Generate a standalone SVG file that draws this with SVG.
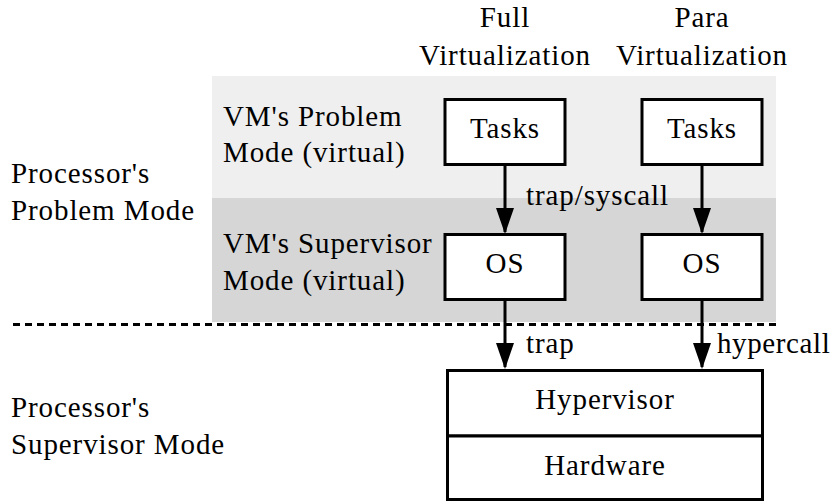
<svg xmlns="http://www.w3.org/2000/svg" width="832" height="504" viewBox="0 0 832 504">
  <defs>
    <marker id="head" viewBox="0 0 26 18" refX="24" refY="9" markerWidth="26" markerHeight="18" markerUnits="userSpaceOnUse" orient="auto">
      <path d="M0,0 L26,9 L0,18 Z" fill="#000"/>
    </marker>
  </defs>

  <!-- mode bands -->
  <rect x="212" y="76" width="564" height="122" fill="#efefef"/>
  <rect x="212" y="198" width="564" height="124" fill="#d6d6d6"/>
  <line x1="13" y1="324.5" x2="776" y2="324.5" stroke="#000" stroke-width="3" stroke-dasharray="7 5"/>

  <!-- column headings -->
  <text x="505" y="27" text-anchor="middle" font-family="Times New Roman" font-size="29" letter-spacing="0.9">Full</text>
  <text x="505" y="65" text-anchor="middle" font-family="Times New Roman" font-size="29" letter-spacing="0.9">Virtualization</text>
  <text x="702" y="27" text-anchor="middle" font-family="Times New Roman" font-size="29" letter-spacing="0.9">Para</text>
  <text x="702" y="65" text-anchor="middle" font-family="Times New Roman" font-size="29" letter-spacing="0.9">Virtualization</text>

  <!-- row labels -->
  <text x="223" y="126" font-family="Times New Roman" font-size="29" letter-spacing="0.9">VM's Problem</text>
  <text x="223" y="162" font-family="Times New Roman" font-size="29" letter-spacing="0.9">Mode (virtual)</text>
  <text x="223" y="253" font-family="Times New Roman" font-size="29" letter-spacing="0.9">VM's Supervisor</text>
  <text x="223" y="290" font-family="Times New Roman" font-size="29" letter-spacing="0.9">Mode (virtual)</text>
  <text x="11" y="183" font-family="Times New Roman" font-size="29" letter-spacing="0.9">Processor's</text>
  <text x="11" y="220" font-family="Times New Roman" font-size="29" letter-spacing="0.9">Problem Mode</text>
  <text x="11" y="417" font-family="Times New Roman" font-size="29" letter-spacing="0.9">Processor's</text>
  <text x="11" y="454" font-family="Times New Roman" font-size="29" letter-spacing="0.9">Supervisor Mode</text>

  <!-- nodes -->
  <g id="tasks-full">
    <rect x="445" y="99.5" width="120" height="65" fill="#fff" stroke="#000" stroke-width="3"/>
    <text x="505" y="138" text-anchor="middle" font-family="Times New Roman" font-size="29" letter-spacing="0.9">Tasks</text>
  </g>
  <g id="tasks-para">
    <rect x="642" y="99.5" width="120" height="65" fill="#fff" stroke="#000" stroke-width="3"/>
    <text x="702" y="138" text-anchor="middle" font-family="Times New Roman" font-size="29" letter-spacing="0.9">Tasks</text>
  </g>
  <g id="os-full">
    <rect x="445" y="234.5" width="120" height="65" fill="#fff" stroke="#000" stroke-width="3"/>
    <text x="505" y="273" text-anchor="middle" font-family="Times New Roman" font-size="29" letter-spacing="0.9">OS</text>
  </g>
  <g id="os-para">
    <rect x="642" y="234.5" width="120" height="65" fill="#fff" stroke="#000" stroke-width="3"/>
    <text x="702" y="273" text-anchor="middle" font-family="Times New Roman" font-size="29" letter-spacing="0.9">OS</text>
  </g>
  <g id="hypervisor">
    <rect x="447.5" y="370.5" width="315" height="65.5" fill="#fff" stroke="#000" stroke-width="3"/>
    <text x="605" y="409" text-anchor="middle" font-family="Times New Roman" font-size="29" letter-spacing="0.9">Hypervisor</text>
  </g>
  <g id="hardware">
    <rect x="447.5" y="436" width="315" height="63.5" fill="#fff" stroke="#000" stroke-width="3"/>
    <text x="605" y="475" text-anchor="middle" font-family="Times New Roman" font-size="29" letter-spacing="0.9">Hardware</text>
  </g>

  <!-- connectors -->
  <g id="edges">
    <line x1="505" y1="166" x2="505" y2="232" stroke="#000" stroke-width="3" marker-end="url(#head)"/>
    <line x1="702" y1="166" x2="702" y2="232" stroke="#000" stroke-width="3" marker-end="url(#head)"/>
    <line x1="505" y1="301" x2="505" y2="367" stroke="#000" stroke-width="3" marker-end="url(#head)"/>
    <line x1="702" y1="301" x2="702" y2="367" stroke="#000" stroke-width="3" marker-end="url(#head)"/>
    <text x="526" y="205" font-family="Times New Roman" font-size="29" letter-spacing="0.9">trap/syscall</text>
    <text x="526" y="353" font-family="Times New Roman" font-size="29" letter-spacing="0.9">trap</text>
    <text x="717" y="353" font-family="Times New Roman" font-size="29" letter-spacing="0.6">hypercall</text>
  </g>
</svg>
